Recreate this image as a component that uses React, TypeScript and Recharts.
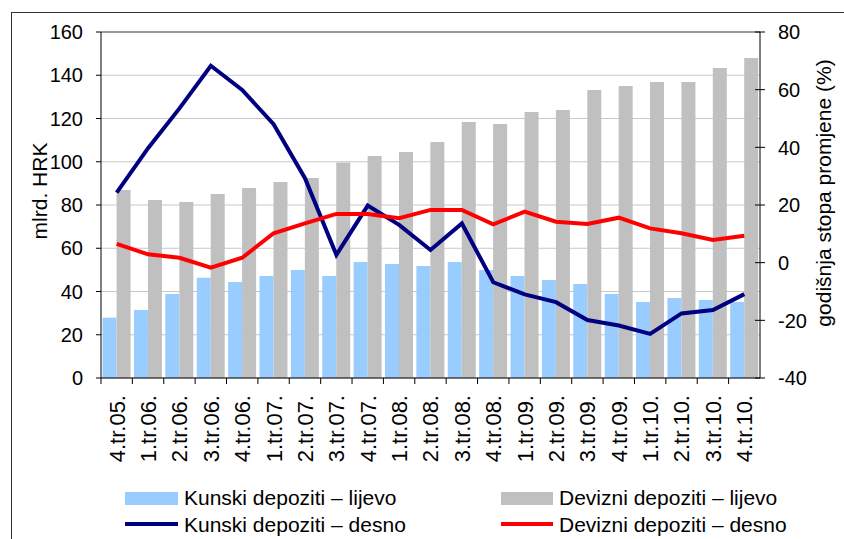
import React from "react";
import {
  ComposedChart,
  Bar,
  Line,
  XAxis,
  YAxis,
  CartesianGrid,
  ReferenceLine
} from "recharts";

const categories = [
  "4.tr.05.", "1.tr.06.", "2.tr.06.", "3.tr.06.", "4.tr.06.", "1.tr.07.", "2.tr.07.",
  "3.tr.07.", "4.tr.07.", "1.tr.08.", "2.tr.08.", "3.tr.08.", "4.tr.08.", "1.tr.09.",
  "2.tr.09.", "3.tr.09.", "4.tr.09.", "1.tr.10.", "2.tr.10.", "3.tr.10.", "4.tr.10."
];

// mlrd. HRK (left axis)
const kunskiLijevo = [27.9, 31.4, 38.8, 46.4, 44.4, 47.2, 49.9, 47.2, 53.6, 52.7, 51.8, 53.6, 49.9, 47.2, 45.3, 43.5, 38.8, 35.1, 37, 36.1, 35.1];
const devizniLijevo = [86.9, 82.3, 81.4, 85.1, 87.9, 90.6, 92.5, 99.7, 102.7, 104.5, 109.1, 118.4, 117.5, 123, 123.9, 133.2, 135, 136.9, 136.9, 143.4, 148];

// godišnja stopa promjene, % (right axis)
const kunskiDesno = [24.3, 39.7, 53.5, 68.3, 59.9, 48, 29.3, 2.7, 19.8, 13.1, 4.4, 13.6, -6.8, -11, -13.7, -19.9, -21.8, -24.7, -17.6, -16.4, -10.9];
const devizniDesno = [6.5, 2.9, 1.7, -1.7, 1.7, 10.2, 13.6, 16.9, 16.9, 15.4, 18.3, 18.3, 13.3, 17.7, 14.2, 13.4, 15.6, 11.9, 10.2, 7.9, 9.3];

const leftTicks = [0, 20, 40, 60, 80, 100, 120, 140, 160];
const rightTicks = [-40, -20, 0, 20, 40, 60, 80];

const data = categories.map((c, i) => ({
  period: c,
  kl: kunskiLijevo[i],
  dl: devizniLijevo[i],
  kd: kunskiDesno[i],
  dd: devizniDesno[i]
}));

const FONT = "'Liberation Sans', Arial, sans-serif";
const HALF_BAND = 15.7;

const CategoryTick = ({ x, y, payload }: any) => (
  <g>
    <line x1={x - HALF_BAND} y1={y - 17} x2={x - HALF_BAND} y2={y - 11} stroke="#000" strokeWidth={1} />
    <text
      x={x}
      y={y}
      transform={`rotate(-90 ${x} ${y})`}
      textAnchor="end"
      dy="0.36em"
      fontSize={22}
      fontFamily={FONT}
      fill="#000"
    >
      {payload.value}
    </text>
  </g>
);

// right axis ticks cross the axis line, like in Excel
const RightTick = ({ x, y, payload }: any) => (
  <g>
    <line x1={x - 23} y1={y} x2={x - 13} y2={y} stroke="#000" strokeWidth={1} />
    <text x={x} y={y} dy="0.36em" textAnchor="start" fontSize={20} fontFamily={FONT} fill="#000">
      {payload.value}
    </text>
  </g>
);

const legendText: React.CSSProperties = {
  position: "absolute",
  fontSize: 21,
  fontFamily: FONT,
  color: "#000",
  lineHeight: "22px",
  whiteSpace: "nowrap"
};

export default function App() {
  return (
    <div style={{ position: "absolute", left: 0, top: 0, width: 844, height: 539, overflow: "hidden", background: "#fff" }}>
      <div style={{ position: "absolute", left: 11, top: 12, width: 900, height: 600, border: "1px solid #333" }} />
      <div style={{ position: "absolute", left: 0, top: 0 }}>
        <ComposedChart
          width={844}
          height={539}
          data={data}
          margin={{ top: 32, right: 0, left: 0, bottom: 0 }}
          barCategoryGap="5%"
          barGap={0}
        >
          <CartesianGrid yAxisId="left" vertical={false} stroke="#c8c8c8" />
          <XAxis
            dataKey="period"
            height={161}
            interval={0}
            tickSize={6}
            tickMargin={11}
            tickLine={false}
            axisLine={{ stroke: "#000" }}
            tick={<CategoryTick />}
          />
          <YAxis
            yAxisId="left"
            orientation="left"
            width={101}
            domain={[0, 160]}
            ticks={leftTicks}
            interval={0}
            tickSize={5}
            tickMargin={13}
            axisLine={{ stroke: "#000" }}
            tickLine={{ stroke: "#000" }}
            tick={{ fontSize: 20, fontFamily: FONT, fill: "#000" }}
          />
          <YAxis
            yAxisId="right"
            orientation="right"
            width={84}
            domain={[-40, 80]}
            ticks={rightTicks}
            interval={0}
            tickSize={5}
            tickMargin={13}
            tickLine={false}
            axisLine={{ stroke: "#000" }}
            tick={<RightTick />}
          />
          <ReferenceLine yAxisId="left" y={160} stroke="#808080" strokeWidth={1.5} />
          <Bar yAxisId="left" dataKey="kl" fill="#99ccff" isAnimationActive={false} />
          <Bar yAxisId="left" dataKey="dl" fill="#c0c0c0" isAnimationActive={false} />
          <Line yAxisId="right" type="linear" dataKey="kd" stroke="#000080" strokeWidth={4} dot={false} activeDot={false} isAnimationActive={false} />
          <Line yAxisId="right" type="linear" dataKey="dd" stroke="#ff0000" strokeWidth={4} dot={false} activeDot={false} isAnimationActive={false} />
        </ComposedChart>
      </div>

      {/* axis titles */}
      <div
        style={{
          position: "absolute", left: 39, top: 191, fontSize: 21, fontFamily: FONT, lineHeight: "21px",
          whiteSpace: "nowrap", transform: "translate(-50%, -50%) rotate(-90deg)"
        }}
      >
        mlrd. HRK
      </div>
      <div
        style={{
          position: "absolute", left: 823, top: 193, fontSize: 21, fontFamily: FONT, lineHeight: "21px",
          whiteSpace: "nowrap", transform: "translate(-50%, -50%) rotate(-90deg)"
        }}
      >
        godišnja stopa promjene (%)
      </div>

      {/* legend */}
      <div style={{ position: "absolute", left: 125, top: 492, width: 53, height: 13, background: "#99ccff" }} />
      <div style={{ ...legendText, left: 184, top: 487 }}>Kunski depoziti – lijevo</div>
      <div style={{ position: "absolute", left: 501, top: 492, width: 52, height: 13, background: "#c0c0c0" }} />
      <div style={{ ...legendText, left: 559, top: 487 }}>Devizni depoziti – lijevo</div>
      <div style={{ position: "absolute", left: 125, top: 522, width: 53, height: 4, background: "#000080" }} />
      <div style={{ ...legendText, left: 184, top: 514 }}>Kunski depoziti – desno</div>
      <div style={{ position: "absolute", left: 501, top: 522, width: 52, height: 4, background: "#ff0000" }} />
      <div style={{ ...legendText, left: 559, top: 514 }}>Devizni depoziti – desno</div>
    </div>
  );
}
